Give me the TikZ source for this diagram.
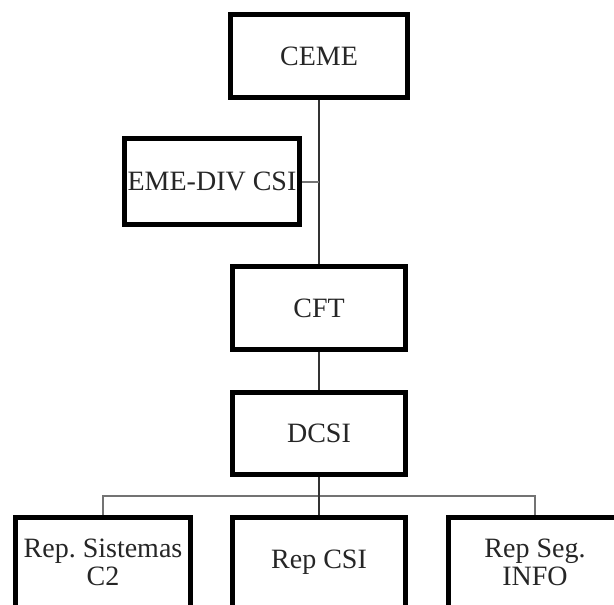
\documentclass[tikz,border=0pt]{standalone}
\usepackage{fontspec}
\setmainfont{Liberation Serif}
\frenchspacing
\begin{document}
\begin{tikzpicture}[x=1pt,y=-1pt,
  orgbox/.style={draw=black, line width=5pt, fill=white, inner sep=0pt,
    align=center, font=\fontsize{28}{28}\selectfont, text=black!85},
  trunk/.style={draw=black!80, line width=1.8pt},
  branch/.style={draw=black!55, line width=2pt}]
  \path[use as bounding box] (0,0) rectangle (614,605);
  \clip (0,0) rectangle (614,605);
  \fill[white] (0,0) rectangle (614,605);

  % boxes (positions are centres, sizes measured on the border centre line)
  \node[orgbox, minimum width=177pt, minimum height=83pt] (ceme) at (319,56) {CEME};
  \node[orgbox, minimum width=175pt, minimum height=86pt] (emediv) at (212,181.5) {EME-DIV CSI};
  \node[orgbox, minimum width=173pt, minimum height=83pt] (cft) at (319,308) {CFT};
  \node[orgbox, minimum width=173pt, minimum height=82pt] (dcsi) at (319,433.5) {DCSI};
  \node[orgbox, minimum width=175pt, minimum height=90pt] (rep1) at (103,562.5) {Rep. Sistemas\\C2};
  \node[orgbox, minimum width=173pt, minimum height=90pt] (rep2) at (319,562.5) {Rep CSI};
  \node[orgbox, minimum width=173pt, minimum height=90pt] (rep3) at (535,562.5) {Rep Seg.\\INFO};

  % connectors
  \coordinate (bus) at (319,496);
  \draw[trunk] (ceme.south) -- (cft.north);
  \draw[branch] (emediv.east) -- (emediv.east -| ceme.south);
  \draw[trunk] (cft.south) -- (dcsi.north);
  \draw[branch] (rep1.north) |- (bus) -| (rep3.north);
  \draw[trunk] (dcsi.south) -- (rep2.north);
\end{tikzpicture}
\end{document}
